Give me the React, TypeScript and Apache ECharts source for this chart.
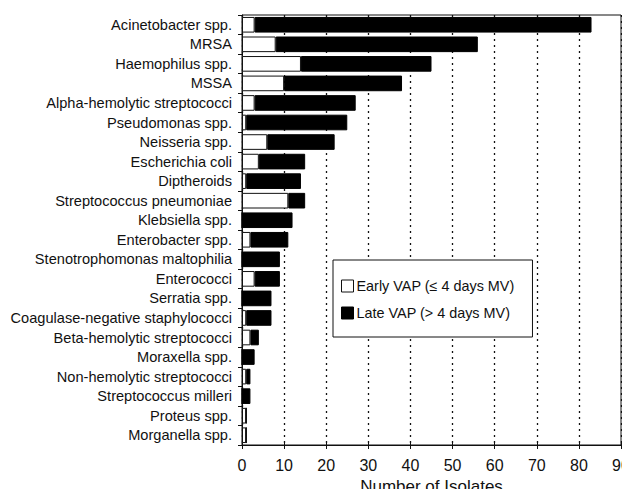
import React, { useEffect, useRef } from "react";
import * as echarts from "echarts";

const categories = [
  "Acinetobacter spp.",
  "MRSA",
  "Haemophilus spp.",
  "MSSA",
  "Alpha-hemolytic streptococci",
  "Pseudomonas spp.",
  "Neisseria spp.",
  "Escherichia coli",
  "Diptheroids",
  "Streptococcus pneumoniae",
  "Klebsiella spp.",
  "Enterobacter spp.",
  "Stenotrophomonas maltophilia",
  "Enterococci",
  "Serratia spp.",
  "Coagulase-negative staphylococci",
  "Beta-hemolytic streptococci",
  "Moraxella spp.",
  "Non-hemolytic streptococci",
  "Streptococcus milleri",
  "Proteus spp.",
  "Morganella spp.",
];

const earlyVAP = [3, 8, 14, 10, 3, 1, 6, 4, 1, 11, 0, 2, 0, 3, 0, 1, 2, 0, 1, 0, 1, 1];
const lateVAP = [80, 48, 31, 28, 24, 24, 16, 11, 13, 4, 12, 9, 9, 6, 7, 6, 2, 3, 1, 2, 0, 0];

const xTicks = { min: 0, max: 90, interval: 10 };
const seriesNames = ["Early VAP (\u2264 4 days MV)", "Late VAP (> 4 days MV)"];

const FONT = "'Liberation Sans', Arial, Helvetica, sans-serif";

export default function App() {
  const ref = useRef<HTMLDivElement>(null);
  useEffect(() => {
    if (!ref.current) return;
    const chart = echarts.init(ref.current, undefined, { renderer: "svg" });
    chart.setOption({
      animation: false,
      backgroundColor: "#ffffff",
      textStyle: { fontFamily: FONT },
      grid: {
        left: 242,
        top: 15,
        width: 379,
        height: 430,
        outerBoundsMode: "none",
        containLabel: false,
        show: true,
        borderColor: "#111",
        borderWidth: 1,
        backgroundColor: "transparent",
      },
      legend: {
        orient: "vertical",
        left: 333,
        top: 260,
        padding: [18, 18, 16, 8],
        itemGap: 11,
        itemWidth: 12,
        itemHeight: 12,
        borderColor: "#111",
        borderWidth: 1,
        backgroundColor: "#fff",
        icon: "rect",
        textStyle: { fontFamily: FONT, fontSize: 14.4, color: "#111", lineHeight: 16, padding: [0, 0, 0, -2] },
        data: [
          { name: seriesNames[0], itemStyle: { color: "#fff", borderColor: "#111", borderWidth: 1 } },
          { name: seriesNames[1], itemStyle: { color: "#000", borderColor: "#000", borderWidth: 1 } },
        ],
      },
      xAxis: [
        {
          type: "value",
          min: xTicks.min,
          max: xTicks.max,
          interval: xTicks.interval,
          name: "Number of Isolates",
          nameLocation: "middle",
          nameGap: 33,
          nameTextStyle: { fontFamily: FONT, fontSize: 17, lineHeight: 17, color: "#111" },
          axisLine: { show: true, lineStyle: { color: "#111", width: 1 } },
          axisTick: { show: true, length: 4, lineStyle: { color: "#111" } },
          axisLabel: { fontFamily: FONT, fontSize: 16, lineHeight: 16, color: "#111", margin: 12 },
          splitLine: { show: true, lineStyle: { color: "#111", type: [2, 4], width: 1.3 } },
        },
        {
          type: "value",
          position: "bottom",
          min: xTicks.min,
          max: xTicks.max,
          interval: xTicks.interval,
          axisLine: { show: false },
          axisTick: { show: true, inside: true, length: 4, lineStyle: { color: "#111" } },
          axisLabel: { show: false },
          splitLine: { show: false },
        },
      ],
      yAxis: {
        type: "category",
        data: categories,
        inverse: true,
        axisLine: { show: true, lineStyle: { color: "#111", width: 1 } },
        axisTick: { show: true, length: 4, lineStyle: { color: "#111" } },
        axisLabel: { fontFamily: FONT, fontSize: 14.6, color: "#111", margin: 10 },
      },
      series: [
        {
          name: seriesNames[0],
          type: "bar",
          stack: "total",
          data: earlyVAP,
          barCategoryGap: "20%",
          itemStyle: { color: "#fff", borderColor: "#111", borderWidth: 1 },
        },
        {
          name: seriesNames[1],
          type: "bar",
          stack: "total",
          data: lateVAP,
          barCategoryGap: "20%",
          itemStyle: { color: "#000", borderColor: "#000", borderWidth: 1 },
        },
      ],
    });
    return () => chart.dispose();
  }, []);
  return <div ref={ref} style={{ width: 630, height: 497, margin: -8 }} />;
}
